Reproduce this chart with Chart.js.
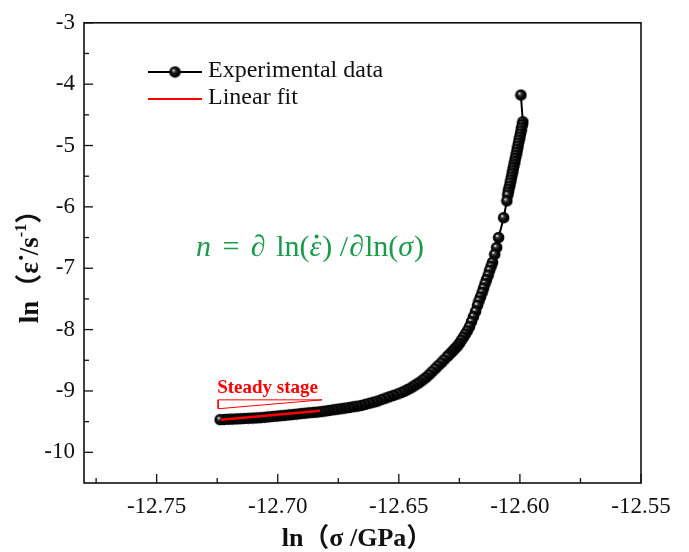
<!DOCTYPE html>
<html><head><meta charset="utf-8">
<script src="https://cdn.jsdelivr.net/npm/chart.js@4.4.0/dist/chart.umd.min.js"></script>
<style>html,body{margin:0;padding:0;background:#fff;}#wrap{width:689px;height:552px;}</style>
</head><body><div id="wrap"><canvas id="c" width="689" height="552"></canvas></div>
<script>
// ln(sigma/GPa) values
const lnSigma = [
-12.7238,-12.7221,-12.7204,-12.7188,-12.7171,-12.7154,-12.7138,-12.7121,-12.7104,-12.7088,
-12.7071,-12.7054,-12.7038,-12.7021,-12.7004,-12.6988,-12.6971,-12.6954,-12.6938,-12.6921,
-12.6904,-12.6888,-12.6871,-12.6854,-12.6838,-12.6821,-12.6804,-12.6788,-12.6771,-12.6754,
-12.6738,-12.6721,-12.6704,-12.6688,-12.6671,-12.6654,-12.6638,-12.6621,-12.6604,-12.6588,
-12.6571,-12.6554,-12.6538,-12.6521,-12.6504,-12.6488,
-12.6475,-12.6463,-12.6450,-12.6438,-12.6425,-12.6413,-12.6400,-12.6388,-12.6375,-12.6363,
-12.6350,-12.6338,-12.6325,-12.6313,-12.6300,-12.6292,-12.6283,-12.6275,-12.6267,-12.6258,
-12.6250,-12.6242,-12.6233,-12.6225,-12.6217,
-12.6208,-12.6200,-12.6192,-12.6183,-12.6175,-12.6169,-12.6163,-12.6156,-12.6150,-12.6144,
-12.6138,-12.6131,-12.6125,-12.6119,-12.6113,-12.6104,-12.6096,-12.6088,-12.6067,-12.6054,
-12.6050,-12.6048,-12.6046,-12.6042,-12.6040,-12.6037,-12.6034,-12.6032,-12.6029,-12.6027,
-12.6024,-12.6021,-12.6019,-12.6016,-12.6013,-12.6011,-12.6008,-12.6006,-12.6003,-12.6000,
-12.5998,-12.5995,-12.5993,-12.5990,-12.5988,-12.5996
];
// ln(strain rate / s^-1) values
const lnRate = [
-9.468,-9.465,-9.461,-9.458,-9.455,-9.452,-9.448,-9.445,-9.442,-9.439,
-9.435,-9.429,-9.423,-9.416,-9.410,-9.403,-9.397,-9.390,-9.384,-9.377,
-9.369,-9.363,-9.356,-9.350,-9.344,-9.337,-9.327,-9.318,-9.308,-9.298,
-9.289,-9.279,-9.269,-9.258,-9.248,-9.235,-9.218,-9.200,-9.182,-9.165,
-9.140,-9.116,-9.094,-9.071,-9.048,-9.024,
-9.000,-8.976,-8.950,-8.919,-8.887,-8.855,-8.818,-8.781,-8.735,-8.687,
-8.639,-8.590,-8.542,-8.492,-8.440,-8.406,-8.371,-8.337,-8.303,-8.268,
-8.226,-8.174,-8.123,-8.071,-8.019,
-7.952,-7.871,-7.790,-7.702,-7.605,-7.532,-7.468,-7.395,-7.323,-7.250,
-7.185,-7.113,-7.032,-6.968,-6.903,-6.774,-6.661,-6.500,-6.177,-5.903,
-5.806,-5.758,-5.710,-5.661,-5.608,-5.558,-5.508,-5.458,-5.408,-5.358,
-5.310,-5.260,-5.210,-5.160,-5.110,-5.060,-5.010,-4.960,-4.910,-4.860,
-4.811,-4.761,-4.711,-4.661,-4.613,-4.177
];
const fitX = [-12.7233, -12.6825];
const fitY = [-9.468, -9.323];
const triX = [-12.7246, -12.7246, -12.6817, -12.7246];
const triY = [-9.145, -9.290, -9.145, -9.145];
const xTickValues = [-12.775,-12.75,-12.725,-12.70,-12.675,-12.65,-12.625,-12.60,-12.575,-12.55];
const xTickLabels = ['','-12.75','','-12.70','','-12.65','','-12.60','','-12.55'];
const yTickValues = [-10,-9.5,-9,-8.5,-8,-7.5,-7,-6.5,-6,-5.5,-5,-4.5,-4,-3.5,-3];
const yTickLabels = ['-10','','-9','','-8','','-7','','-6','','-5','','-4','','-3'];
const legendLabels = ['Experimental data','Linear fit'];

function makeBall(r){
  const d = Math.ceil(r*2)+1;
  const c = document.createElement('canvas'); c.width = d; c.height = d;
  const g = c.getContext('2d'); const cx = d/2, cy = d/2;
  const grad = g.createRadialGradient(cx-r*0.3, cy-r*0.32, 0, cx, cy, r);
  grad.addColorStop(0,'#ffffff'); grad.addColorStop(0.1,'#d8d8d8');
  grad.addColorStop(0.28,'#3a3a3a'); grad.addColorStop(0.6,'#0a0a0a'); grad.addColorStop(1,'#000000');
  g.fillStyle = grad; g.beginPath(); g.arc(cx,cy,r,0,Math.PI*2); g.fill();
  return c;
}
const ball = makeBall(5.8);
const serif = "'Liberation Serif','Times New Roman',serif";
const cjk = "'Liberation Serif','Noto Sans CJK SC',serif";

const expData = lnSigma.map((x,i)=>({x:x, y:lnRate[i]})).reverse();

function drawSegs(ctx, segs, x, y){
  let cx = x;
  for (const s of segs){
    ctx.font = s.f;
    ctx.fillText(s.t, cx, y + (s.dy||0));
    cx += ctx.measureText(s.t).width + (s.gap||0);
  }
  return cx;
}
function segsWidth(ctx, segs){
  let w = 0;
  for (const s of segs){ ctx.font = s.f; w += ctx.measureText(s.t).width + (s.gap||0); }
  return w;
}

const deco = {
  id:'deco',
  afterDatasetsDraw(chart){
    const ctx = chart.ctx, a = chart.chartArea, xs = chart.scales.x, ys = chart.scales.y;
    ctx.save();
    // frame
    ctx.strokeStyle = '#111'; ctx.lineWidth = 1.6;
    ctx.strokeRect(a.left, a.top, a.right-a.left, a.bottom-a.top);
    // inward ticks
    ctx.lineWidth = 1.3;
    xs.ticks.forEach((t,i)=>{
      const px = xs.getPixelForValue(t.value);
      const len = xTickLabels[i] ? 9 : 5;
      ctx.beginPath(); ctx.moveTo(px, a.bottom); ctx.lineTo(px, a.bottom-len); ctx.stroke();
    });
    ys.ticks.forEach((t,i)=>{
      const py = ys.getPixelForValue(t.value);
      const len = yTickLabels[i] ? 9 : 5;
      ctx.beginPath(); ctx.moveTo(a.left, py); ctx.lineTo(a.left+len, py); ctx.stroke();
    });
    // legend
    const lx0 = a.left + 64, lx1 = a.left + 118;
    ctx.strokeStyle = '#000'; ctx.lineWidth = 2;
    ctx.beginPath(); ctx.moveTo(lx0, 72); ctx.lineTo(lx1, 72); ctx.stroke();
    ctx.drawImage(ball, (lx0+lx1)/2 - ball.width/2, 72 - ball.height/2);
    ctx.strokeStyle = '#ff0000'; ctx.lineWidth = 2;
    ctx.beginPath(); ctx.moveTo(lx0, 99); ctx.lineTo(lx1, 99); ctx.stroke();
    ctx.fillStyle = '#111'; ctx.font = '24px ' + serif; ctx.textBaseline = 'middle'; ctx.textAlign = 'left';
    ctx.fillText(legendLabels[0], lx1 + 6, 71);
    ctx.fillText(legendLabels[1], lx1 + 6, 98);
    // Steady stage
    ctx.fillStyle = '#ff0000'; ctx.font = 'bold 19px ' + serif; ctx.textAlign = 'center'; ctx.textBaseline = 'alphabetic';
    ctx.fillText('Steady stage', xs.getPixelForValue(-12.7042), ys.getPixelForValue(-9.035));
    // equation
    const eqSize = 30;
    const it = 'italic ' + eqSize + 'px ' + serif, rm = eqSize + 'px ' + serif;
    const eq = [
      {t:'n', f:it, gap:4},{t:' = ', f:rm, gap:4},{t:'\u2202', f:it, gap:3},{t:' ln(', f:rm},{t:'\u03B5', f:it, dot:true, gap:1},
      {t:') /', f:rm, gap:1},{t:'\u2202', f:it, gap:1},{t:'ln(', f:rm},{t:'\u03C3', f:it, gap:1},{t:')', f:rm}
    ];
    ctx.fillStyle = '#1a9a4a'; ctx.textAlign = 'left'; ctx.textBaseline = 'alphabetic';
    const ew = segsWidth(ctx, eq);
    let ex = 310 - ew/2; const ey = 256;
    for (const s of eq){
      ctx.font = s.f; ctx.fillText(s.t, ex, ey);
      const w = ctx.measureText(s.t).width;
      if (s.dot){ ctx.beginPath(); ctx.arc(ex + w*0.6, ey - 19.5, 2, 0, Math.PI*2); ctx.fill(); }
      ex += w + (s.gap||0);
    }
    // x title
    ctx.fillStyle = '#111';
    const bt = 'bold 26px ' + serif, bc = 'bold 26px ' + cjk;
    const xt = [{t:'ln', f:bt},{t:'\uFF08', f:bc},{t:'\u03C3 /GPa', f:bt},{t:'\uFF09', f:bc}];
    const xw = segsWidth(ctx, xt);
    ctx.textBaseline = 'middle';
    drawSegs(ctx, xt, 357 - xw/2, 539);
    // y title (rotated)
    const yb = 'bold 27px ' + serif, ybc = 'bold 27px ' + cjk;
    const yt = [{t:'ln', f:yb},{t:'\uFF08', f:ybc},{t:'\u03B5', f:yb},{t:'\u02D9', f:yb, gap:-2},
      {t:'/s', f:yb},{t:'-1', f:'bold 16px ' + serif, dy:-9},{t:'\uFF09', f:ybc}];
    const yw = segsWidth(ctx, yt);
    ctx.translate(31, 260); ctx.rotate(-Math.PI/2);
    drawSegs(ctx, yt, -yw/2, 0);
    ctx.restore();
  }
};

new Chart(document.getElementById('c'), {
  type:'scatter',
  data:{datasets:[
    {label:legendLabels[1], data: fitX.map((x,i)=>({x:x,y:fitY[i]})), showLine:true, borderColor:'#ff0000', borderWidth:2.6, pointRadius:0, order:0},
    {label:'triangle', data: triX.map((x,i)=>({x:x,y:triY[i]})), showLine:true, borderColor:'#ff0000', borderWidth:1, pointRadius:0, order:1},
    {label:legendLabels[0], data: expData, showLine:true, borderColor:'#000', borderWidth:2, pointStyle: ball, pointRadius:5.8, order:2}
  ]},
  options:{
    responsive:false, animation:false, devicePixelRatio:1, events:[],
    layout:{padding:{top:18, right:48, left:0, bottom:0}},
    plugins:{legend:{display:false}, tooltip:{enabled:false}},
    scales:{
      x:{type:'linear', min:-12.78, max:-12.55,
        afterBuildTicks:(s)=>{ s.ticks = xTickValues.map(v=>({value:v})); },
        afterFit:(s)=>{ s.height = 69; },
        grid:{display:false, drawTicks:false}, border:{display:false},
        ticks:{autoSkip:false, maxRotation:0, padding:10, color:'#111', font:{family:serif, size:23},
          callback:(v,i)=> xTickLabels[i]}
      },
      y:{type:'linear', min:-10.5, max:-3,
        afterBuildTicks:(s)=>{ s.ticks = yTickValues.map(v=>({value:v})); },
        afterFit:(s)=>{ s.width = 84; },
        grid:{display:false, drawTicks:false}, border:{display:false},
        ticks:{autoSkip:false, padding:9, color:'#111', font:{family:serif, size:23},
          callback:(v,i)=> yTickLabels[i]}
      }
    }
  },
  plugins:[deco]
});
</script></body></html>
